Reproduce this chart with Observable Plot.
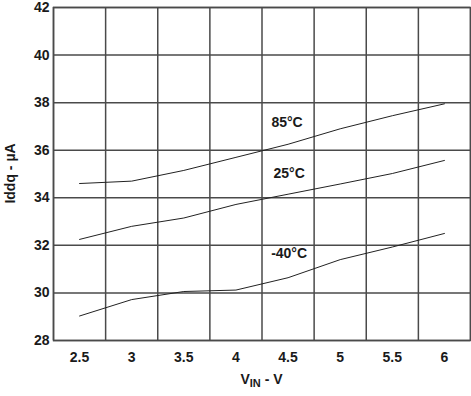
<!DOCTYPE html>
<html><head><meta charset="utf-8">
<script src="https://cdn.jsdelivr.net/npm/d3@7"></script>
<script src="https://cdn.jsdelivr.net/npm/@observablehq/plot@0.6"></script>
<style>body{margin:0;background:#fff}</style>
</head><body><div id="chart"></div>
<script>
// Data
const vin  = [2.5, 3, 3.5, 4, 4.5, 5, 5.5, 6];
const i85  = [34.60, 34.70, 35.15, 35.70, 36.25, 36.90, 37.45, 37.95];
const i25  = [32.25, 32.80, 33.15, 33.72, 34.15, 34.58, 35.02, 35.57];
const im40 = [29.03, 29.72, 30.06, 30.12, 30.64, 31.40, 31.93, 32.50];
const seriesNames = ["85°C", "25°C", "-40°C"];
const labelVin  = [4.49, 4.51, 4.51];
const labelIddq = [37.17, 35.03, 31.66];
const xGrid  = [2.25, 2.75, 3.25, 3.75, 4.25, 4.75, 5.25, 5.75, 6.25];
const xTicks = [2.5, 3, 3.5, 4, 4.5, 5, 5.5, 6];
const yTicks = [28, 30, 32, 34, 36, 38, 40, 42];
const xTitle = ["V", "IN", " - V"];
const yTitle = "Iddq - µA";

const rows = [];
[i85, i25, im40].forEach((s, k) => s.forEach((v, j) => rows.push({series: seriesNames[k], x: vin[j], y: v})));
const labels = seriesNames.map((n, k) => ({text: n, x: labelVin[k], y: labelIddq[k]}));

const font = "'Liberation Sans', Arial, sans-serif";
const W = 471, H = 396;
const plot = Plot.plot({
  width: W, height: H,
  marginLeft: 53, marginRight: 1, marginTop: 7, marginBottom: 56,
  style: {fontFamily: font, fontSize: "14px", fontWeight: "bold", color: "#1a1a1a", background: "#fff"},
  x: {domain: [2.25, 6.25]},
  y: {domain: [28, 42]},
  marks: [
    Plot.gridX(xGrid, {stroke: "#4a4a4a", strokeOpacity: 1, strokeWidth: 1.5}),
    Plot.gridY(yTicks, {stroke: "#4a4a4a", strokeOpacity: 1, strokeWidth: 1.5}),
    Plot.frame({stroke: "#4a4a4a", strokeWidth: 1.5}),
    Plot.axisX(xTicks, {tickSize: 0, tickPadding: 12, label: null, tickFormat: d => String(d), fontSize: 14, fontWeight: "bold"}),
    Plot.axisY(yTicks, {tickSize: 0, tickPadding: 4, label: null, tickFormat: d => String(d), fontSize: 14, fontWeight: "bold"}),
    Plot.line(rows, {x: "x", y: "y", z: "series", stroke: "#222", strokeWidth: 1}),
    Plot.text(labels, {x: "x", y: "y", text: "text", fontSize: 14, fontWeight: "bold", fill: "#1a1a1a", className: "serieslabel"})
  ]
});
document.getElementById("chart").appendChild(plot);

const svg = d3.select(plot);
// white box behind the -40°C label (it breaks the grid line in the reference)
svg.selectAll(".serieslabel text").each(function() {
  if (this.textContent !== "-40°C") return;
  const b = this.getBBox();
  d3.select(this.parentNode).insert("rect", () => this)
    .attr("x", b.x - 3).attr("y", b.y - 3).attr("width", b.width + 6).attr("height", b.height + 5)
    .attr("fill", "#fff");
});
// Axis titles
const xt = svg.append("text")
  .attr("x", (53 + W - 1) / 2).attr("y", 384)
  .attr("text-anchor", "middle")
  .style("font-family", font).style("font-size", "14px").style("font-weight", "bold").attr("fill", "#1a1a1a");
xt.append("tspan").text(xTitle[0]);
xt.append("tspan").attr("dy", 3).style("font-size", "11px").text(xTitle[1]);
xt.append("tspan").attr("dy", -3).text(xTitle[2]);
svg.append("text")
  .attr("transform", `translate(15,${(7 + H - 56) / 2}) rotate(-90)`)
  .attr("text-anchor", "middle")
  .style("font-family", font).style("font-size", "14px").style("font-weight", "bold").attr("fill", "#1a1a1a")
  .text(yTitle);
</script>
</body></html>
